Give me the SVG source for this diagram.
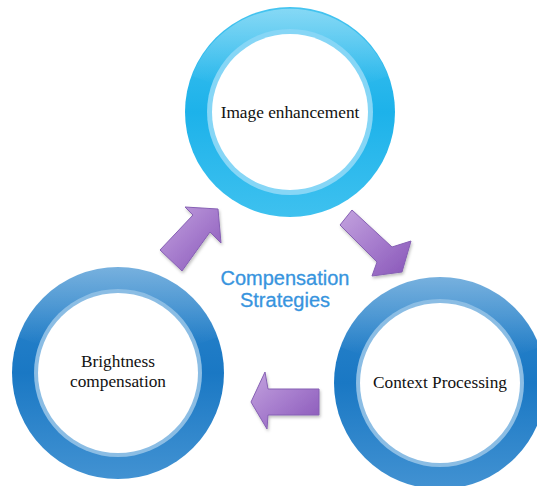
<svg xmlns="http://www.w3.org/2000/svg" width="537" height="486" viewBox="0 0 537 486">
<defs>
<style>
.lbl{font-family:"Liberation Serif","Times New Roman",serif;font-size:17.3px;fill:#111;text-anchor:middle}
.ctr{font-family:"Liberation Sans",Arial,sans-serif;font-size:20px;fill:#3794de;stroke:#3794de;stroke-width:0.3;text-anchor:middle}
.arrow{fill:url(#gArrow);stroke:#8660b4;stroke-width:1}
.gloss{fill:url(#gGloss)}
</style>
<linearGradient id="gTop" x1="0" y1="0" x2="0" y2="1">
<stop offset="0" stop-color="#45c4f0"/>
<stop offset="0.5" stop-color="#1db2ea"/>
<stop offset="1" stop-color="#3ec1ef"/>
</linearGradient>
<linearGradient id="gBot" x1="0" y1="0" x2="0" y2="1">
<stop offset="0" stop-color="#2f87cd"/>
<stop offset="0.5" stop-color="#1a78c4"/>
<stop offset="1" stop-color="#4292d2"/>
</linearGradient>
<linearGradient id="gGloss" x1="0" y1="0" x2="0" y2="1">
<stop offset="0" stop-color="#fff" stop-opacity="0.35"/>
<stop offset="0.5" stop-color="#fff" stop-opacity="0.18"/>
<stop offset="1" stop-color="#fff" stop-opacity="0"/>
</linearGradient>
<linearGradient id="gArrow" x1="0" y1="0" x2="1" y2="1">
<stop offset="0" stop-color="#c3a3de"/>
<stop offset="0.5" stop-color="#a67ccd"/>
<stop offset="1" stop-color="#8856b8"/>
</linearGradient>
<filter id="sh" x="-20%" y="-20%" width="140%" height="140%">
<feDropShadow dx="1" dy="2" stdDeviation="1.5" flood-color="#000" flood-opacity="0.25"/>
</filter>
</defs>

<g id="node-image-enhancement">
<circle cx="290" cy="112" r="105" fill="url(#gTop)"/>
<path class="gloss" d="M 192 76 A 105 105 0 0 1 388 76 L 366 84 A 82 82 0 0 0 214 84 Z"/>
<circle cx="290" cy="112" r="83" fill="#86d6f6"/>
<circle cx="290" cy="112" r="78" fill="#ffffff"/>
<text class="lbl" x="290" y="118">Image enhancement</text>
</g>

<g id="node-brightness">
<circle cx="118" cy="373" r="106" fill="url(#gBot)"/>
<path class="gloss" d="M 18 337 A 106 106 0 0 1 218 337 L 196 345 A 83 83 0 0 0 40 345 Z"/>
<circle cx="118" cy="373" r="84" fill="#8bbde4"/>
<circle cx="118" cy="373" r="80" fill="#ffffff"/>
<text class="lbl" x="118" y="367">Brightness</text>
<text class="lbl" x="118" y="387">compensation</text>
</g>

<g id="node-context">
<circle cx="440" cy="383" r="106" fill="url(#gBot)"/>
<path class="gloss" d="M 340 347 A 106 106 0 0 1 540 347 L 518 355 A 83 83 0 0 0 362 355 Z"/>
<circle cx="440" cy="383" r="84" fill="#8bbde4"/>
<circle cx="440" cy="383" r="80" fill="#ffffff"/>
<text class="lbl" x="440" y="388">Context Processing</text>
</g>

<g id="connectors" filter="url(#sh)">
<polygon class="arrow" points="160,250 193,215 185,207 218,209 221,243 210,232 182,271"/>
<polygon class="arrow" points="340,225 352,210 392,247 411,241 402,272 372,276 377,262"/>
<polygon class="arrow" points="319,389 319,415 268,415 267,429 251,402 265,372 268,389"/>
</g>

<g id="center-label">
<text class="ctr" x="285" y="285">Compensation</text>
<text class="ctr" x="285" y="307">Strategies</text>
</g>
</svg>
